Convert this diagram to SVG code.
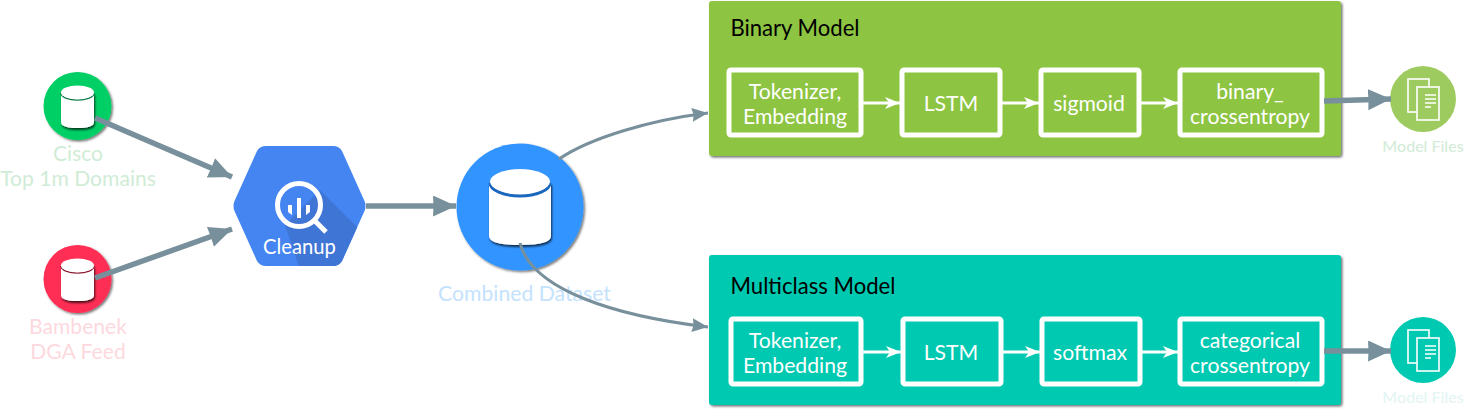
<svg xmlns="http://www.w3.org/2000/svg" width="1470" height="412" viewBox="0 0 1470 412">
<defs>
<style>
text{font-family:Lato,"Open Sans",sans-serif;text-anchor:middle}
.lbl{font-size:21.2px;fill:#fff}
.inner{fill:none;stroke:#fff;stroke-width:5}
.thick{fill:none;stroke:#78909c;stroke-width:5.5}
.curve{fill:none;stroke:#78909c;stroke-width:3}
.white{fill:none;stroke:#fff;stroke-width:3}
.ttl{font-size:22.100px;fill:#000}
.src{font-size:21.100px}
.file{font-size:16px;font-weight:500}
.cyl{fill:#fff}
.doc{fill:none;stroke:#fff;stroke-width:1.6}
</style>
<filter id="sh" x="-20%" y="-20%" width="150%" height="150%"><feDropShadow dx="1.5" dy="1.5" stdDeviation="1.2" flood-color="#000" flood-opacity="0.55"/></filter>
<filter id="shc" x="-20%" y="-20%" width="150%" height="150%"><feDropShadow dx="1" dy="2" stdDeviation="1" flood-color="#000" flood-opacity="0.7"/></filter>
<marker id="big" markerUnits="userSpaceOnUse" markerWidth="26" markerHeight="24" refX="23" refY="10.500" orient="auto"><path d="M0 0L23 10.500L0 21L0.500 10.500Z" fill="#78909c"/></marker>
<marker id="mid" markerUnits="userSpaceOnUse" markerWidth="18" markerHeight="16" refX="16" refY="7" orient="auto"><path d="M0 0L16 7L0 14L1.500 7Z" fill="#78909c"/></marker>
<marker id="wh" markerUnits="userSpaceOnUse" markerWidth="16" markerHeight="14" refX="15" refY="6" orient="auto"><path d="M0 0L15 6L0 12L4 6Z" fill="#fff"/></marker>
<clipPath id="hexc"><path id="hexp" d="M266 146H333Q339 146 342 151L364.500 201Q366.500 206 364.500 211L342 261Q339 266 333 266H266Q260 266 257 261L234.500 211Q232.500 206 234.500 201L257 151Q260 146 266 146Z"/></clipPath>
</defs>

<g id="cisco">
<circle cx="77.500" cy="106" r="34" fill="#00cf66" filter="url(#sh)"/>
<g filter="url(#shc)"><path class="cyl" d="M61 93V122Q61 128 77.500 128Q94 128 94 122V93Z"/></g>
<path d="M61 93A16.500 7 0 0 0 94 93" fill="none" stroke="#0a7a42" stroke-width="1.500"/>
<ellipse cx="77.500" cy="92.500" rx="16.500" ry="7" fill="#fff"/>
<text class="src" x="78" y="161" fill="#d0ecd6">Cisco</text>
<text class="src" x="78" y="186" fill="#d0ecd6">Top 1m Domains</text>
</g>

<g id="bambenek">
<circle cx="77.500" cy="279" r="34" fill="#ff2d55" filter="url(#sh)"/>
<g filter="url(#shc)"><path class="cyl" d="M61 266V295Q61 301 77.500 301Q94 301 94 295V266Z"/></g>
<path d="M61 266A16.500 7 0 0 0 94 266" fill="none" stroke="#8c1a30" stroke-width="1.500"/>
<ellipse cx="77.500" cy="265.500" rx="16.500" ry="7" fill="#fff"/>
<text class="src" x="78" y="334" fill="#fdd9de">Bambenek</text>
<text class="src" x="78" y="359" fill="#fdd9de">DGA Feed</text>
</g>

<g id="cleanup">
<use href="#hexp" fill="#4485f1"/>
<path clip-path="url(#hexc)" d="M320 190L370 240L340 270H300L285 225Z" fill="#3f76d6"/>
<circle cx="299" cy="205" r="21.500" fill="none" stroke="#fff" stroke-width="5"/>
<path d="M314 220L326 232" stroke="#fff" stroke-width="5" fill="none"/>
<path d="M288 205h4v10l-4-3zM297 198h4v20h-4zM306 205h4v7l-4 3z" fill="#fff"/>
<text x="299.500" y="254" font-size="20.200" fill="#fff">Cleanup</text>
</g>

<g id="dataset">
<circle cx="520" cy="207" r="63.500" fill="#3294ff" filter="url(#sh)"/>
<g filter="url(#shc)"><path class="cyl" d="M489 183V236Q489 245 520 245Q551 245 551 236V183Z"/></g>
<path d="M490 183A30 13 0 0 0 550 183" fill="none" stroke="#1a68bd" stroke-width="3"/>
<ellipse cx="520" cy="181.500" rx="30" ry="12.500" fill="#fff"/>
<text x="524.500" y="301" font-size="21.200" fill="#c4e2fd">Combined Dataset</text>
</g>

<g id="binary-model">
<rect x="709" y="1" width="632" height="155" rx="3" fill="#8dc443" filter="url(#sh)"/>
<text class="ttl" x="795" y="36">Binary Model</text>
</g>
<g id="b-token"><rect class="inner" x="729" y="70" width="132" height="65" rx="2"/><text class="lbl" x="795" y="99">Tokenizer,</text><text class="lbl" x="795" y="124">Embedding</text></g>
<g id="b-lstm"><rect class="inner" x="902" y="70" width="98" height="65" rx="2"/><text class="lbl" x="951" y="111">LSTM</text></g>
<g id="b-sigmoid"><rect class="inner" x="1041" y="70" width="98" height="65" rx="2"/><text class="lbl" x="1089" y="111">sigmoid</text></g>
<g id="b-loss"><rect class="inner" x="1180" y="70" width="142" height="65" rx="2"/><text class="lbl" x="1250" y="99">binary_</text><text class="lbl" x="1250" y="124">crossentropy</text></g>

<g id="multiclass-model">
<rect x="709" y="255" width="632" height="150" rx="3" fill="#00c9b1" filter="url(#sh)"/>
<text class="ttl" x="813" y="294">Multiclass Model</text>
</g>
<g id="m-token"><rect class="inner" x="731" y="319" width="130" height="65" rx="2"/><text class="lbl" x="795" y="348">Tokenizer,</text><text class="lbl" x="795" y="373">Embedding</text></g>
<g id="m-lstm"><rect class="inner" x="903" y="319" width="98" height="65" rx="2"/><text class="lbl" x="951" y="360">LSTM</text></g>
<g id="m-softmax"><rect class="inner" x="1042" y="319" width="98" height="65" rx="2"/><text class="lbl" x="1090" y="360">softmax</text></g>
<g id="m-loss"><rect class="inner" x="1180" y="319" width="142" height="65" rx="2"/><text class="lbl" x="1250" y="348">categorical</text><text class="lbl" x="1250" y="373">crossentropy</text></g>

<g id="files-binary">
<circle cx="1423" cy="99" r="33" fill="#9ecb5f"/>
<rect class="doc" x="1408" y="79" width="21" height="33" /><rect x="1417" y="87" width="22" height="33" fill="#9ecb5f" stroke="#fff" stroke-width="1.600"/>
<path d="M1425 95h11M1425 99h11M1425 103h11M1425 107h6" stroke="#fff" stroke-width="1.500"/>
<text class="file" x="1423" y="152" fill="#d4ecd9">Model Files</text>
</g>
<g id="files-multiclass">
<circle cx="1423" cy="350" r="33" fill="#00c9b1"/>
<rect class="doc" x="1408" y="330" width="21" height="33"/><rect x="1417" y="338" width="22" height="33" fill="#00c9b1" stroke="#fff" stroke-width="1.600"/>
<path d="M1425 346h11M1425 350h11M1425 354h11M1425 358h6" stroke="#fff" stroke-width="1.500"/>
<text class="file" x="1423" y="403" fill="#e4f5f3">Model Files</text>
</g>

<g id="connectors">
<path class="thick" marker-end="url(#big)" d="M95 118L232 177"/>
<path class="thick" marker-end="url(#big)" d="M95 278L232 229"/>
<path class="thick" marker-end="url(#big)" d="M366 206H456"/>
<path class="curve" marker-end="url(#mid)" d="M559 159C590 138 650 120 708 113"/>
<path class="curve" marker-end="url(#mid)" d="M520 243C532 290 615 316 708 327"/>
<path class="white" marker-end="url(#wh)" d="M863 103H900"/>
<path class="white" marker-end="url(#wh)" d="M1002 103H1039"/>
<path class="white" marker-end="url(#wh)" d="M1141 103H1178"/>
<path class="white" marker-end="url(#wh)" d="M863 352H901"/>
<path class="white" marker-end="url(#wh)" d="M1003 352H1040"/>
<path class="white" marker-end="url(#wh)" d="M1142 352H1178"/>
<path class="thick" marker-end="url(#big)" d="M1324 101L1391 99"/>
<path class="thick" marker-end="url(#big)" d="M1324 351H1391"/>
</g>
</svg>
